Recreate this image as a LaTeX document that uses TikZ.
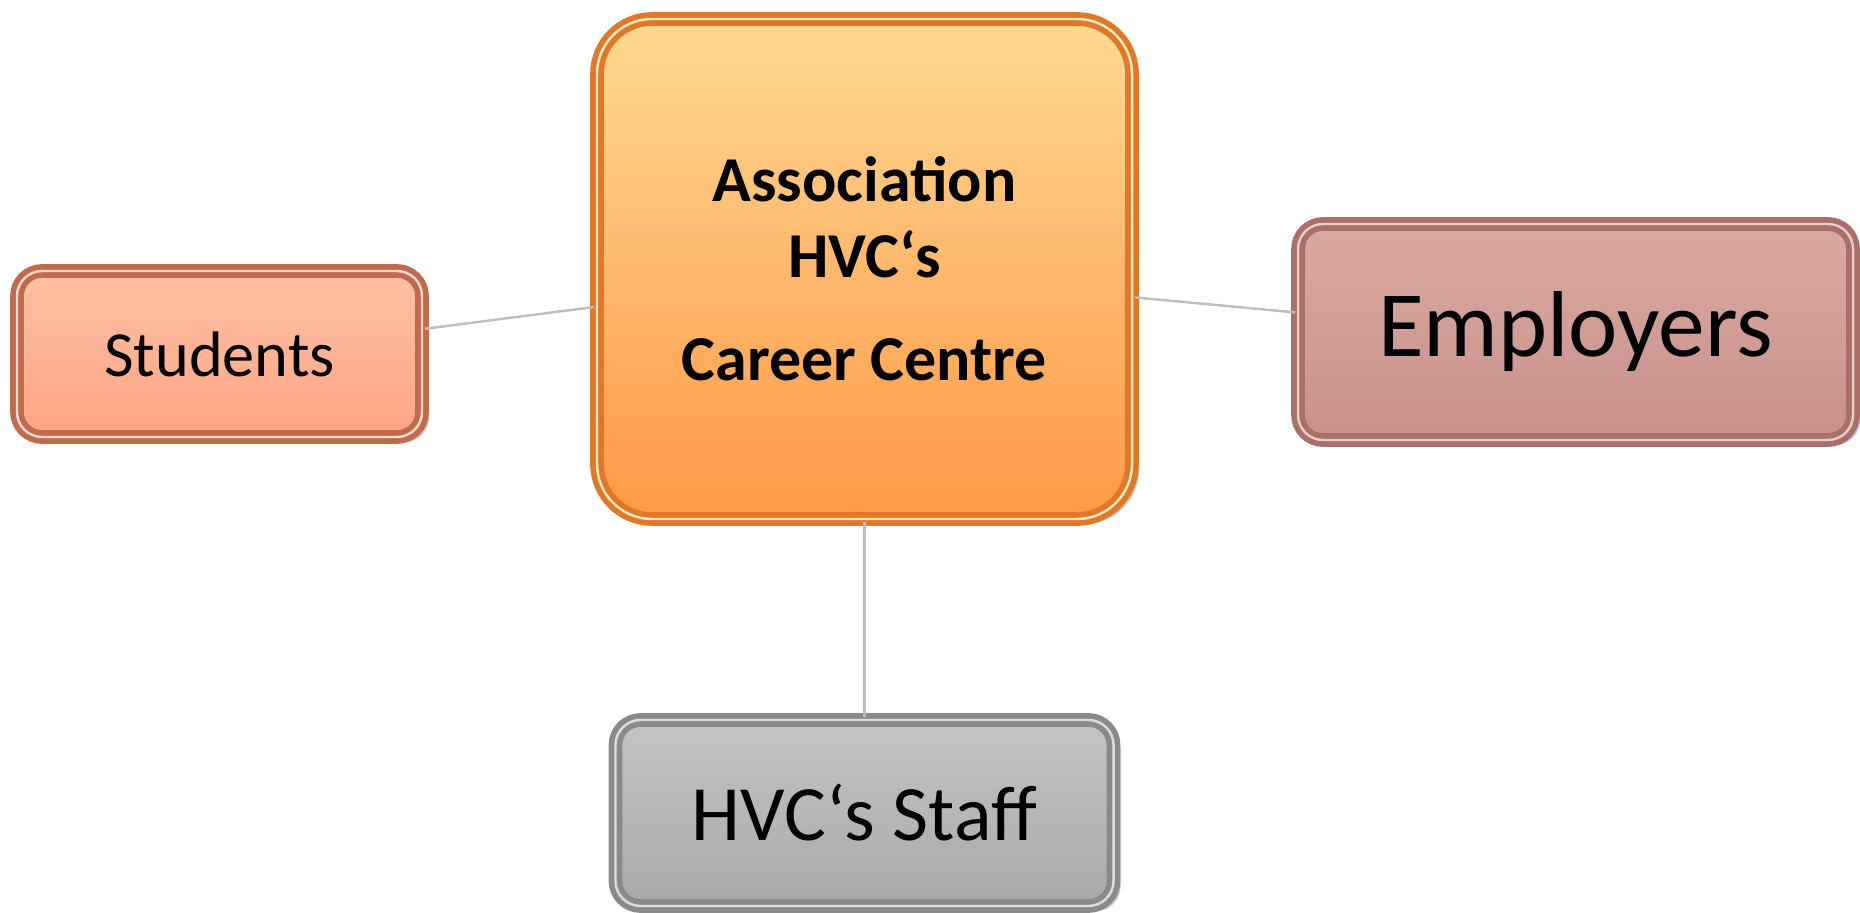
\documentclass[tikz,border=0pt]{standalone}
\usepackage{fontspec}
\setmainfont{Carlito}
\usetikzlibrary{positioning,shadows}

\definecolor{hubtop}{HTML}{FFD993}
\definecolor{hubbot}{HTML}{FF9847}
\definecolor{hubrim}{HTML}{E0782A}
\definecolor{studtop}{HTML}{FFC0A4}
\definecolor{studbot}{HTML}{FFA585}
\definecolor{studrim}{HTML}{C06A50}
\definecolor{emptop}{HTML}{D9AAA2}
\definecolor{empbot}{HTML}{C8918A}
\definecolor{emprim}{HTML}{A87068}
\definecolor{stafftop}{HTML}{C4C4C4}
\definecolor{staffbot}{HTML}{A9A9A9}
\definecolor{staffrim}{HTML}{8A8A8A}

\begin{document}
\begin{tikzpicture}[%
    on grid,
    bevel/.style={rectangle, rounded corners=#1, line width=1.6pt,
      double distance=0.7pt, shading angle=135,
      drop shadow={shadow xshift=2pt, shadow yshift=-1.5pt, fill=black!45}},
    hub/.style={bevel=0.55cm, minimum width=5.35cm, minimum height=5.0cm,
      top color=hubtop, bottom color=hubbot, draw=hubrim, double=hubtop!60!white,
      align=center, font=\bfseries\fontsize{18.2pt}{21.5pt}\selectfont},
    party/.style={bevel=0.25cm, inner sep=0pt},
    link/.style={draw=black!25, line width=0.7pt}
  ]
  \useasboundingbox (0,0) rectangle (18.6,-9.13);

  \node[hub] (centre) at (8.645,-2.69)
    {Association\\HVC‘s\\[8pt]Career Centre};
  \node[party, minimum width=4.05cm, minimum height=1.66cm,
        top color=studtop, bottom color=studbot, draw=studrim, double=studtop!60!white,
        font=\fontsize{18.3pt}{22pt}\selectfont]
    (students) [below left=0.85cm and 6.45cm of centre] {Students};
  \node[party, minimum width=5.55cm, minimum height=2.16cm,
        top color=emptop, bottom color=empbot, draw=emprim, double=emptop!60!white,
        font=\fontsize{26.6pt}{30pt}\selectfont]
    (employers) [below right=0.63cm and 7.11cm of centre] {Employers};
  \node[party, minimum width=4.98cm, minimum height=1.86cm,
        top color=stafftop, bottom color=staffbot, draw=staffrim, double=stafftop!60!white,
        font=\fontsize{22.3pt}{26pt}\selectfont]
    (staff) [below=5.44cm of centre] {HVC‘s Staff};

  \path[link] (students.7) edge (centre.188);
  \path[link] (centre.-6) edge (employers.176);
  \path[link] (centre.south) edge (staff.north);

\end{tikzpicture}
\end{document}
